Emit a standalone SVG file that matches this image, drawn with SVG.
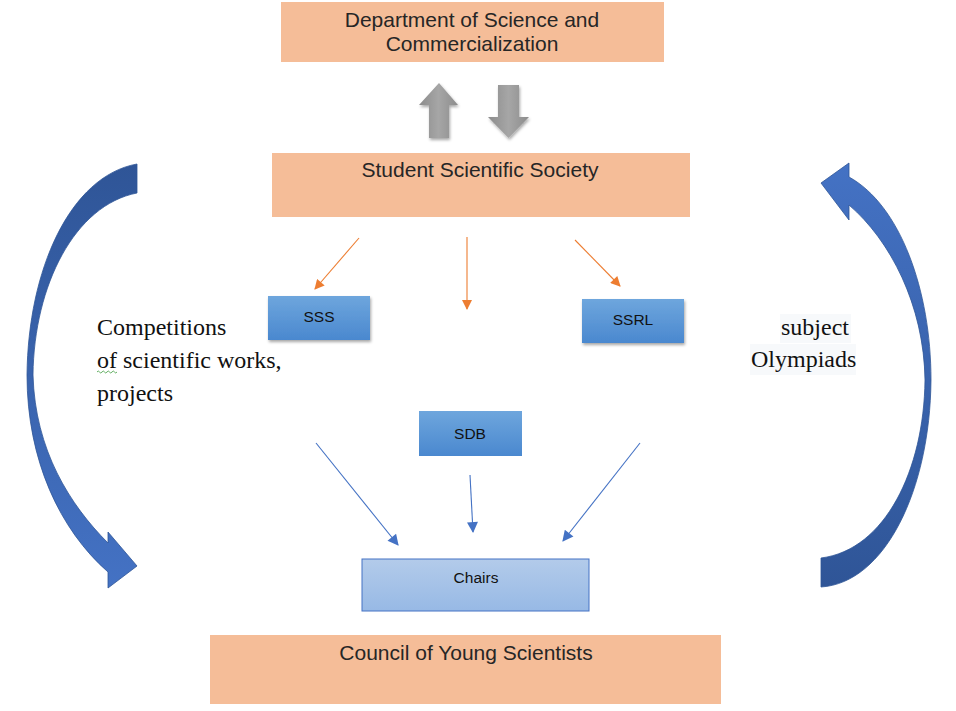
<svg xmlns="http://www.w3.org/2000/svg" width="956" height="711" viewBox="0 0 956 711">
<style>
.peach{fill:#F5BD98}
.sans{font-family:"Liberation Sans",Arial,sans-serif;fill:#262626}
.big{font-size:21px}
.small{font-size:15.5px;fill:#111}
.serif{font-family:"Liberation Serif","Times New Roman",serif;font-size:24px;fill:#111}
.oc{stroke:#ED7D31;stroke-width:1.1;fill:none}
.bc{stroke:#4472C4;stroke-width:1.1;fill:none}
</style>
<defs>
<marker id="mo" viewBox="0 0 10 10" refX="9" refY="5" markerWidth="11" markerHeight="10" markerUnits="userSpaceOnUse" orient="auto">
<path d="M0,0 L10,5 L0,10 Z" fill="#ED7D31"/>
</marker>
<marker id="mb" viewBox="0 0 10 10" refX="9" refY="5" markerWidth="13" markerHeight="11" markerUnits="userSpaceOnUse" orient="auto">
<path d="M0,0 L10,5 L0,10 Z" fill="#4472C4"/>
</marker>
<linearGradient id="gblue" x1="0" y1="0" x2="0" y2="1">
<stop offset="0" stop-color="#6EA6DD"/>
<stop offset="1" stop-color="#4A88CF"/>
</linearGradient>
<linearGradient id="glight" x1="0" y1="0" x2="0" y2="1">
<stop offset="0" stop-color="#B3CBEA"/>
<stop offset="1" stop-color="#97B9E5"/>
</linearGradient>
<linearGradient id="ggray" x1="0" y1="0" x2="1" y2="0">
<stop offset="0" stop-color="#8C8C8C"/>
<stop offset="0.5" stop-color="#A6A6A6"/>
<stop offset="1" stop-color="#8C8C8C"/>
</linearGradient>
<linearGradient id="gleft" x1="0" y1="0" x2="0" y2="1">
<stop offset="0" stop-color="#2F5597"/>
<stop offset="1" stop-color="#4472C4"/>
</linearGradient>
<linearGradient id="gright" x1="0" y1="0" x2="0" y2="1">
<stop offset="0" stop-color="#4472C4"/>
<stop offset="1" stop-color="#2F5597"/>
</linearGradient>
<filter id="sh" x="-20%" y="-20%" width="140%" height="150%">
<feDropShadow dx="1" dy="2" stdDeviation="1.5" flood-color="#000" flood-opacity="0.35"/>
</filter>
</defs>

<g id="dept">
<rect class="peach" x="281" y="2" width="383" height="60"/>
<text class="sans big" x="472" y="27" text-anchor="middle">Department of Science and</text>
<text class="sans big" x="472" y="51" text-anchor="middle">Commercialization</text>
</g>

<g id="exchange-arrows" filter="url(#sh)">
<path d="M439,83 L458,105 L449,105 L449,138 L429,138 L429,105 L419,105 Z" fill="url(#ggray)"/>
<path d="M498,85 L519,85 L519,117 L529,117 L508.5,138 L488,117 L498,117 Z" fill="url(#ggray)"/>
</g>

<g id="sss-society">
<rect class="peach" x="272" y="153" width="418" height="64"/>
<text class="sans big" x="480" y="177" text-anchor="middle">Student Scientific Society</text>
</g>

<g id="sss">
<rect x="268" y="296" width="102" height="44" fill="url(#gblue)" filter="url(#sh)"/>
<text class="sans small" x="319" y="322" text-anchor="middle">SSS</text>
</g>

<g id="ssrl">
<rect x="582" y="299" width="102" height="44" fill="url(#gblue)" filter="url(#sh)"/>
<text class="sans small" x="633" y="325" text-anchor="middle">SSRL</text>
</g>

<g id="sdb">
<rect x="419" y="411" width="103" height="45" fill="url(#gblue)"/>
<text class="sans small" x="470" y="439" text-anchor="middle">SDB</text>
</g>

<g id="chairs">
<rect x="362" y="559" width="227" height="52" fill="url(#glight)" stroke="#4472C4" stroke-width="1"/>
<text class="sans small" x="476" y="583" text-anchor="middle">Chairs</text>
</g>

<g id="council">
<rect class="peach" x="210" y="635" width="511" height="69"/>
<text class="sans big" x="466" y="660" text-anchor="middle">Council of Young Scientists</text>
</g>

<g id="connectors">
<line class="oc" x1="359" y1="238" x2="315" y2="289" marker-end="url(#mo)"/>
<line class="oc" x1="467" y1="237" x2="467" y2="309" marker-end="url(#mo)"/>
<line class="oc" x1="575" y1="240" x2="620" y2="286" marker-end="url(#mo)"/>
<line class="bc" x1="316" y1="443" x2="398" y2="545" marker-end="url(#mb)"/>
<line class="bc" x1="470" y1="475" x2="473" y2="532" marker-end="url(#mb)"/>
<line class="bc" x1="640" y1="443" x2="563" y2="541" marker-end="url(#mb)"/>
</g>

<g id="left-curved-arrow">
<path d="M137,164 C70,176 28,270 27,375 C27,460 60,530 108,572 L108,588 L137,566 L108,532 L108,543 C70,505 35,450 33,375 C34,285 75,205 137,193 Z" fill="url(#gleft)" stroke="#2F5597" stroke-width="0.8"/>
</g>

<g id="right-curved-arrow">
<path d="M821,587 C885,583 930,490 931,380 C931,290 900,205 849,177 L849,163 L821,183 L849,220 L849,205 C890,240 924,305 925,380 C924,470 885,550 821,558 Z" fill="url(#gright)" stroke="#2F5597" stroke-width="0.8"/>
</g>

<g id="label-competitions">
<text class="serif" x="97" y="335">Competitions</text>
<text class="serif" x="97" y="368">of scientific works,</text>
<text class="serif" x="97" y="401">projects</text>
<path d="M97,372 q1.25,-2 2.5,0 t2.5,0 t2.5,0 t2.5,0 t2.5,0 t2.5,0 t2.5,0 t2.5,0" fill="none" stroke="#3C9A3C" stroke-width="0.8"/>
</g>

<g id="label-olympiads">
<rect x="780" y="314" width="71" height="29" fill="#F7F9FB"/>
<rect x="750" y="344" width="106" height="31" fill="#F7F9FB"/>
<text class="serif" x="781" y="335">subject</text>
<text class="serif" x="751" y="367">Olympiads</text>
</g>
</svg>
